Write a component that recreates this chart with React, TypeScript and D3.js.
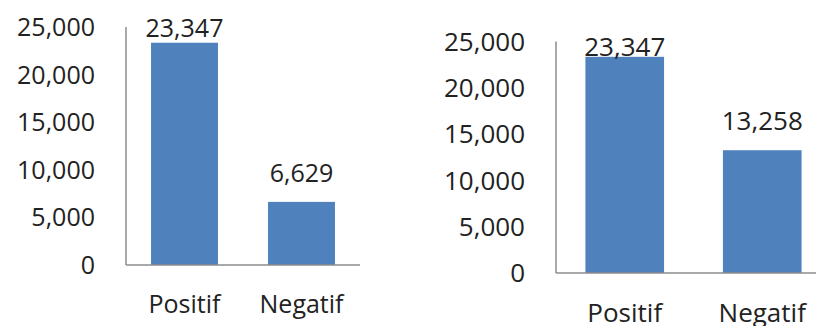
import React from "react";
import * as d3 from "d3";

const categories = ["Positif", "Negatif"];
const leftValues = [23347, 6629];
const rightValues = [23347, 13258];
const yTicks = [0, 5000, 10000, 15000, 20000, 25000];
const yMax = 25000;

type Panel = {
  values: number[];
  axisX: number;
  axisEnd: number;
  baseY: number;
  topY: number;
  fontSize: number;
  catBaseline: number;
  labelCeiling: number;
};

const panels: Panel[] = [
  { values: leftValues, axisX: 126, axisEnd: 360, baseY: 265, topY: 27, fontSize: 25, catBaseline: 313, labelCeiling: 37 },
  { values: rightValues, axisX: 556, axisEnd: 831, baseY: 273, topY: 41.5, fontSize: 26, catBaseline: 322, labelCeiling: 56 },
];

const BAR = "#4f81bd";
const TEXT = "#222222";
const AXIS = "#8c8c8c";
const fmt = d3.format(",");

function BarPanel({ p }: { p: Panel }) {
  const x = d3
    .scaleBand<string>()
    .domain(categories)
    .range([p.axisX, p.axisEnd])
    .paddingInner(0.428)
    .paddingOuter(0.214);
  const y = d3.scaleLinear().domain([0, yMax]).range([p.baseY, p.topY]);
  return (
    <g fontFamily="'Open Sans', sans-serif" fontSize={p.fontSize} fill={TEXT}>
      {categories.map((c, i) => {
        const v = p.values[i];
        const bx = x(c)!;
        const cx = bx + x.bandwidth() / 2;
        const top = y(v);
        const lblY = Math.max(top - 20, p.labelCeiling);
        return (
          <g key={c}>
            <rect x={bx} y={top} width={x.bandwidth()} height={p.baseY - top} fill={BAR} />
            <text x={cx} y={lblY} textAnchor="middle">
              {fmt(v)}
            </text>
            <text x={cx} y={p.catBaseline} textAnchor="middle">
              {c}
            </text>
          </g>
        );
      })}
      {yTicks.map((t) => (
        <text key={t} x={p.axisX - 31} y={y(t)} dy="0.36em" textAnchor="end">
          {fmt(t)}
        </text>
      ))}
      <line x1={p.axisX} x2={p.axisX} y1={y(yMax)} y2={p.baseY} stroke={AXIS} strokeWidth={1.5} />
      <line x1={p.axisX} x2={p.axisEnd} y1={p.baseY} y2={p.baseY} stroke={AXIS} strokeWidth={1.5} />
    </g>
  );
}

export default function App() {
  return (
    <svg
      width={816}
      height={326}
      viewBox="0 0 816 326"
      style={{ position: "absolute", left: 0, top: 0, background: "#fff" }}
    >
      <rect width={816} height={326} fill="#fff" />
      {panels.map((p, i) => (
        <BarPanel key={i} p={p} />
      ))}
    </svg>
  );
}
